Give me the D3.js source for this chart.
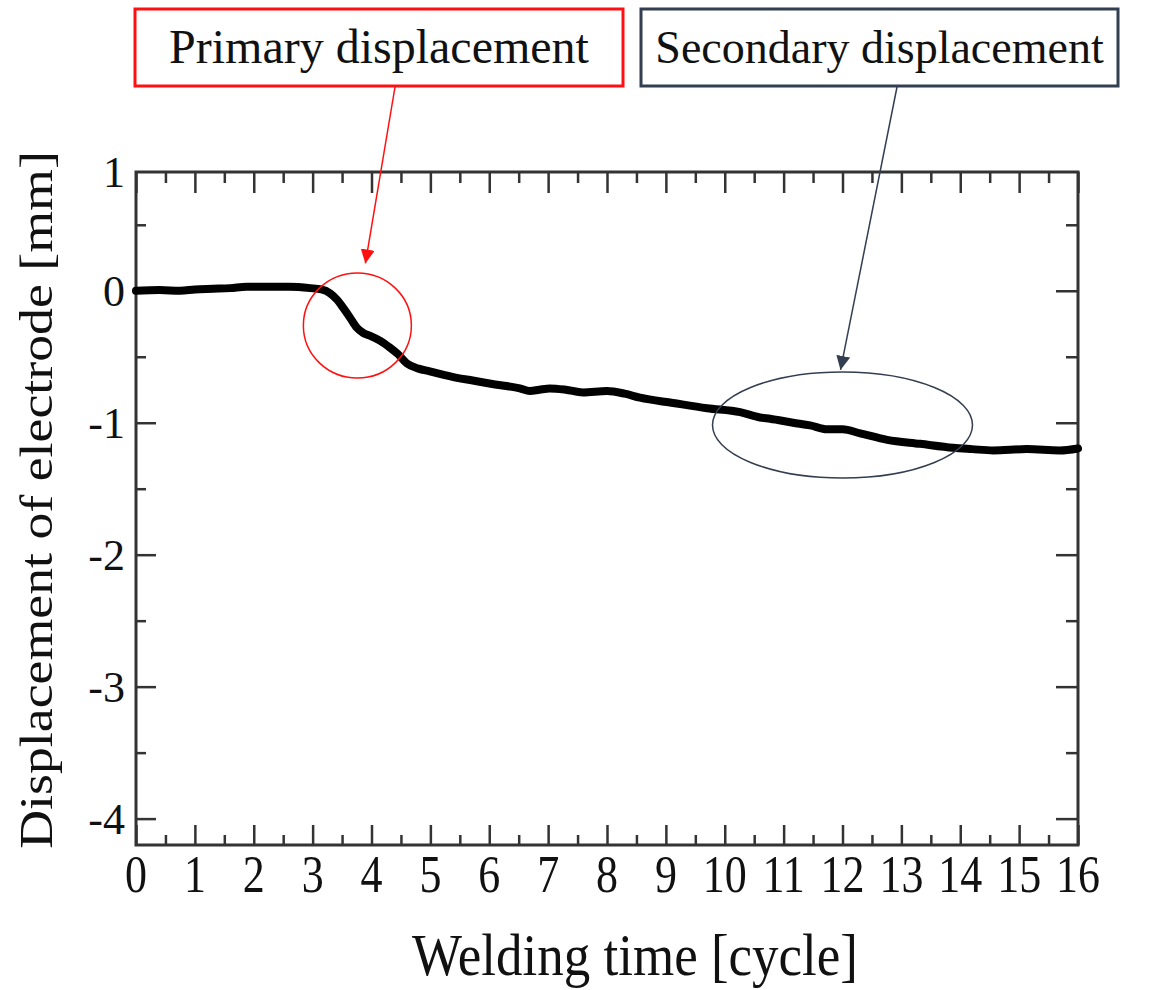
<!DOCTYPE html>
<html>
<head>
<meta charset="utf-8">
<script src="https://cdn.jsdelivr.net/npm/d3@7"></script>
<style>
  body { margin: 0; background: #fff; }
  text { font-family: "Liberation Serif", "Times New Roman", serif; fill: #111; }
</style>
</head>
<body>
<div id="chart"></div>
<script>
// Data
const timeCycle = [0, 0.4, 0.75, 1.0, 1.31, 1.6, 1.88, 2.28, 2.6, 2.96,
  3.15, 3.3, 3.42, 3.52, 3.63, 3.75, 3.86, 3.97, 4.15, 4.31,
  4.45, 4.6, 4.8, 4.99, 5.16, 5.45, 5.72, 6.1, 6.52, 6.69,
  6.85, 7.03, 7.3, 7.59, 8.0, 8.3, 8.56, 9.12, 9.7, 10.26,
  10.6, 10.77, 11.16, 11.45, 11.74, 12.0, 12.3, 12.76, 13.32, 13.88,
  14.2, 14.56, 15.13, 15.69, 16.0];
const displacement = [0, 0.005, 0, 0.01, 0.015, 0.02, 0.03, 0.03, 0.03, 0.02,
  0.01, -0.02, -0.07, -0.13, -0.2, -0.28, -0.32, -0.34, -0.38, -0.43,
  -0.48, -0.55, -0.59, -0.61, -0.63, -0.66, -0.68, -0.71, -0.74, -0.76,
  -0.75, -0.74, -0.75, -0.77, -0.76, -0.78, -0.81, -0.85, -0.89, -0.92,
  -0.96, -0.97, -1.0, -1.02, -1.05, -1.05, -1.08, -1.13, -1.16, -1.19,
  -1.2, -1.21, -1.2, -1.21, -1.195];

const xTicks = d3.range(0, 17);
const xMinorTicks = d3.range(0.5, 16, 1);
const yTicks = [0, -1, -2, -3, -4];
const yMinorTicks = [0.5, -0.5, -1.5, -2.5, -3.5];
const yTickLabels = [1, 0, -1, -2, -3, -4];

// annotation centres in data units
const primaryMark = {t: 3.76, d: -0.263};
const secondaryMark = {t: 12.0, d: -1.017};

const margin = {top: 172, right: 75, bottom: 145, left: 136},
    W = 1153, H = 990,
    width = W - margin.left - margin.right,
    height = H - margin.top - margin.bottom;

const svg = d3.select("#chart").append("svg")
    .attr("width", W)
    .attr("height", H);

const g = svg.append("g")
    .attr("transform", `translate(${margin.left},${margin.top})`);

const x = d3.scaleLinear().domain([0, 16]).range([0, width]);
const y = d3.scaleLinear().domain([-4.2, 0.9]).range([height, 0]).clamp(true);

// tick marks (all pointing inward)
function ticks(axis, vals, size, tr) {
  const a = g.append("g")
    .attr("transform", tr)
    .call(axis.tickValues(vals).tickSize(-size).tickFormat(""));
  a.select(".domain").remove();
  a.selectAll("line").attr("stroke", "#333").attr("stroke-width", 2.5);
}
ticks(d3.axisBottom(x), xTicks, 20, `translate(0,${height})`);
ticks(d3.axisBottom(x), xMinorTicks, 10, `translate(0,${height})`);
ticks(d3.axisTop(x), xTicks, 21, "translate(0,0)");
ticks(d3.axisTop(x), xMinorTicks, 11, "translate(0,0)");
ticks(d3.axisLeft(y), yTicks, 20, "translate(0,0)");
ticks(d3.axisLeft(y), yMinorTicks, 10, "translate(0,0)");
ticks(d3.axisRight(y), yTicks, 22, `translate(${width},0)`);
ticks(d3.axisRight(y), yMinorTicks, 12, `translate(${width},0)`);

// frame
g.append("rect")
  .attr("width", width)
  .attr("height", height)
  .attr("fill", "none")
  .attr("stroke", "#333")
  .attr("stroke-width", 3);

// x tick labels
g.append("g").selectAll("g")
  .data(xTicks)
  .join("g")
    .attr("transform", d => `translate(${x(d)},${height + 47})`)
  .append("text")
    .attr("text-anchor", "middle")
    .attr("transform", "scale(1,1.2)")
    .style("font-size", "44px")
    .text(d => d);

// y tick labels
g.append("g").selectAll("text")
  .data(yTickLabels)
  .join("text")
    .attr("x", -11)
    .attr("y", d => y(d))
    .attr("dy", "0.34em")
    .attr("text-anchor", "end")
    .style("font-size", "44px")
    .text(d => d);

// axis titles
svg.append("text")
  .attr("transform", "translate(635,975) scale(1,1.1)")
  .attr("text-anchor", "middle")
  .style("font-size", "53px")
  .text("Welding time [cycle]");

svg.append("text")
  .attr("transform", "translate(52,500) rotate(-90) scale(1.17,1)")
  .attr("text-anchor", "middle")
  .style("font-size", "46px")
  .text("Displacement of electrode [mm]");

// data line
const line = d3.line()
  .x((d, i) => x(timeCycle[i]))
  .y(d => y(d))
  .curve(d3.curveMonotoneX);

g.append("path")
  .datum(displacement)
  .attr("fill", "none")
  .attr("stroke", "#000")
  .attr("stroke-width", 8)
  .attr("stroke-linejoin", "round")
  .attr("stroke-linecap", "round")
  .attr("d", line);

// annotations
const red = "#ff1010", slate = "#333f50";

g.append("ellipse")
  .attr("cx", x(primaryMark.t))
  .attr("cy", y(primaryMark.d))
  .attr("rx", 54).attr("ry", 52.5)
  .attr("fill", "none").attr("stroke", red).attr("stroke-width", 1.5);

g.append("ellipse")
  .attr("cx", x(secondaryMark.t))
  .attr("cy", y(secondaryMark.d))
  .attr("rx", 130).attr("ry", 53)
  .attr("fill", "none").attr("stroke", slate).attr("stroke-width", 1.5);

const defs = svg.append("defs");
[["arrRed", red], ["arrSlate", slate]].forEach(([id, c]) => {
  defs.append("marker")
    .attr("id", id)
    .attr("viewBox", "0 0 10 10")
    .attr("refX", 10).attr("refY", 5)
    .attr("markerWidth", 14).attr("markerHeight", 14)
    .attr("markerUnits", "userSpaceOnUse")
    .attr("orient", "auto")
    .append("path")
      .attr("d", "M0,0 L10,5 L0,10 z")
      .attr("fill", c);
});

function callout(x1, y1, x2, y2, color, marker) {
  svg.append("line")
    .attr("x1", x1).attr("y1", y1)
    .attr("x2", x2).attr("y2", y2)
    .attr("stroke", color).attr("stroke-width", 1.5)
    .attr("marker-end", `url(#${marker})`);
}
callout(395, 87, margin.left + x(primaryMark.t) + 8, margin.top + y(primaryMark.d) - 62, red, "arrRed");
callout(897, 87, margin.left + x(secondaryMark.t) - 2, margin.top + y(secondaryMark.d) - 55, slate, "arrSlate");

function box(x0, x1, label, color, fs) {
  svg.append("rect")
    .attr("x", x0).attr("y", 9)
    .attr("width", x1 - x0).attr("height", 77)
    .attr("fill", "#fff")
    .attr("stroke", color).attr("stroke-width", 3);
  svg.append("text")
    .attr("x", (x0 + x1) / 2).attr("y", 63)
    .attr("text-anchor", "middle")
    .style("font-size", fs + "px")
    .text(label);
}
box(135, 623, "Primary displacement", red, 48);
box(641, 1118, "Secondary displacement", slate, 46);
</script>
</body>
</html>
